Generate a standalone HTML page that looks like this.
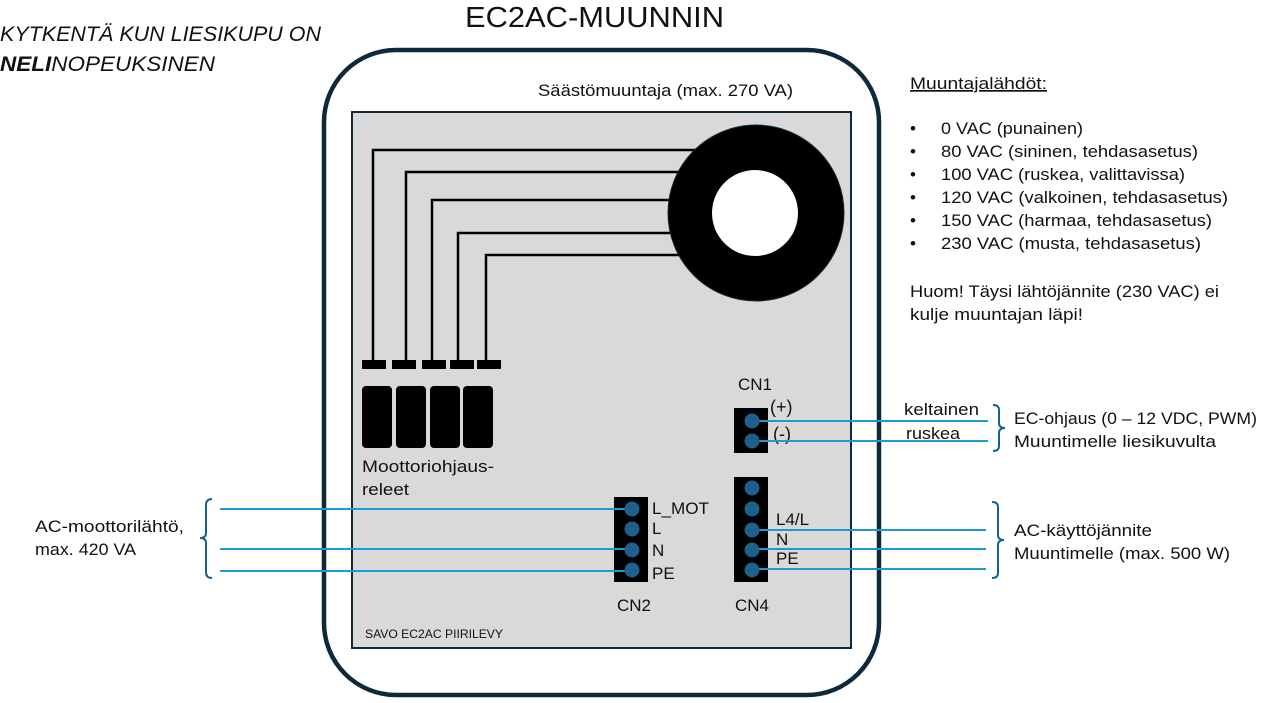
<!DOCTYPE html>
<html><head><meta charset="utf-8"><style>
html,body{margin:0;padding:0;background:#fff;}
svg{display:block;}
text{font-family:"Liberation Sans",sans-serif;fill:#111;}
</style></head><body>
<svg width="1272" height="703" viewBox="0 0 1272 703" xmlns="http://www.w3.org/2000/svg">
<text x="465" y="27" font-size="29" textLength="259" lengthAdjust="spacingAndGlyphs">EC2AC-MUUNNIN</text>
<text x="0" y="41" font-size="21" font-style="italic" textLength="321" lengthAdjust="spacingAndGlyphs">KYTKENTÄ KUN LIESIKUPU ON</text>
<text x="0" y="71" font-size="21" font-style="italic" textLength="215" lengthAdjust="spacingAndGlyphs"><tspan font-weight="bold">NELI</tspan>NOPEUKSINEN</text>

<rect x="324" y="50" width="555" height="645" rx="72" fill="#fff" stroke="#0e2a3a" stroke-width="4.5"/>
<text x="538" y="96" font-size="17" textLength="255" lengthAdjust="spacingAndGlyphs">Säästömuuntaja (max. 270 VA)</text>
<rect x="352" y="112" width="499" height="536" fill="#d9d9d9" stroke="#0e2a3a" stroke-width="2"/>

<g stroke="#000" stroke-width="2.5" fill="none">
<polyline points="373,362 373,150 700,150"/>
<polyline points="406,362 406,172 690,172"/>
<polyline points="432,362 432,200 680,200"/>
<polyline points="458,362 458,233 680,233"/>
<polyline points="486,362 486,255 690,255"/>
</g>
<circle cx="756" cy="213" r="88" fill="#000" stroke="#0e2a3a" stroke-width="1"/>
<circle cx="755" cy="213" r="43" fill="#fff"/>

<g fill="#000">
<rect x="362" y="360" width="24" height="9"/>
<rect x="392" y="360" width="24" height="9"/>
<rect x="422" y="360" width="24" height="9"/>
<rect x="450" y="360" width="24" height="9"/>
<rect x="477" y="360" width="24" height="9"/>
<rect x="362" y="386" width="30" height="62" rx="4"/>
<rect x="396" y="386" width="30" height="62" rx="4"/>
<rect x="430" y="386" width="30" height="62" rx="4"/>
<rect x="463" y="386" width="30" height="62" rx="4"/>
</g>
<text x="362" y="472" font-size="17" textLength="132" lengthAdjust="spacingAndGlyphs">Moottoriohjaus-</text>
<text x="362" y="495" font-size="17" textLength="47" lengthAdjust="spacingAndGlyphs">releet</text>

<text x="738" y="390" font-size="17">CN1</text>
<rect x="734" y="408" width="34" height="45" fill="#000"/>
<text x="770" y="413" font-size="18">(+)</text>
<text x="773" y="440" font-size="18">(-)</text>
<rect x="614" y="497" width="34" height="85" fill="#000"/>
<text x="617" y="611" font-size="17">CN2</text>
<text x="652" y="514" font-size="17" textLength="57" lengthAdjust="spacingAndGlyphs">L_MOT</text>
<text x="652" y="534" font-size="17">L</text>
<text x="652" y="556" font-size="17">N</text>
<text x="652" y="579" font-size="17">PE</text>
<rect x="734" y="477" width="34" height="105" fill="#000"/>
<text x="735" y="611" font-size="17">CN4</text>
<text x="776" y="525" font-size="17">L4/L</text>
<text x="776" y="545" font-size="17">N</text>
<text x="776" y="564" font-size="17">PE</text>

<g stroke="#1a9ad0" stroke-width="2" fill="none">
<line x1="752" y1="421" x2="988" y2="421"/>
<line x1="752" y1="441" x2="988" y2="441"/>
<line x1="220" y1="509" x2="632" y2="509"/>
<line x1="220" y1="549" x2="632" y2="549"/>
<line x1="220" y1="571" x2="632" y2="571"/>
<line x1="752" y1="530" x2="986" y2="530"/>
<line x1="752" y1="549" x2="986" y2="549"/>
<line x1="752" y1="569" x2="986" y2="569"/>
</g>
<g fill="#1f5f8b">
<circle cx="752" cy="421" r="7.5"/><circle cx="752" cy="441" r="7.5"/>
<circle cx="632" cy="509" r="7.5"/><circle cx="632" cy="529" r="7.5"/><circle cx="632" cy="550" r="7.5"/><circle cx="632" cy="570" r="7.5"/>
<circle cx="752" cy="488" r="7.5"/><circle cx="752" cy="509" r="7.5"/><circle cx="752" cy="530" r="7.5"/><circle cx="752" cy="550" r="7.5"/><circle cx="752" cy="570" r="7.5"/>
</g>

<text x="365" y="638" font-size="12" textLength="138" lengthAdjust="spacingAndGlyphs">SAVO EC2AC PIIRILEVY</text>

<g stroke="#1a5f8e" stroke-width="2" fill="none">
<path d="M212,499 Q206,499 206,505 L206,533 Q206,538 200,538 Q206,538 206,543 L206,572 Q206,578 212,578"/>
<path d="M993,405 Q999,405 999,410 L999,423 Q999,428 1005,428 Q999,428 999,433 L999,446 Q999,451 993,451"/>
<path d="M992,502 Q998,502 998,507 L998,535 Q998,540 1004,540 Q998,540 998,545 L998,573 Q998,578 992,578"/>
</g>

<g font-size="17">
<text x="35" y="532" textLength="149" lengthAdjust="spacingAndGlyphs">AC-moottorilähtö,</text>
<text x="35" y="555" textLength="101" lengthAdjust="spacingAndGlyphs">max. 420 VA</text>
<text x="904" y="415" textLength="75" lengthAdjust="spacingAndGlyphs">keltainen</text>
<text x="906" y="439" textLength="54" lengthAdjust="spacingAndGlyphs">ruskea</text>
<text x="1014" y="424" textLength="243" lengthAdjust="spacingAndGlyphs">EC-ohjaus (0 – 12 VDC, PWM)</text>
<text x="1014" y="447" textLength="202" lengthAdjust="spacingAndGlyphs">Muuntimelle liesikuvulta</text>
<text x="1014" y="536" textLength="138" lengthAdjust="spacingAndGlyphs">AC-käyttöjännite</text>
<text x="1014" y="559" textLength="216" lengthAdjust="spacingAndGlyphs">Muuntimelle (max. 500 W)</text>

<text x="910" y="89" text-decoration="underline" textLength="137" lengthAdjust="spacingAndGlyphs">Muuntajalähdöt:</text>
<text x="910" y="134">•</text><text x="941" y="134" textLength="142" lengthAdjust="spacingAndGlyphs">0 VAC (punainen)</text>
<text x="910" y="157">•</text><text x="941" y="157" textLength="257" lengthAdjust="spacingAndGlyphs">80 VAC (sininen, tehdasasetus)</text>
<text x="910" y="180">•</text><text x="941" y="180" textLength="244" lengthAdjust="spacingAndGlyphs">100 VAC (ruskea, valittavissa)</text>
<text x="910" y="203">•</text><text x="941" y="203" textLength="287" lengthAdjust="spacingAndGlyphs">120 VAC (valkoinen, tehdasasetus)</text>
<text x="910" y="226">•</text><text x="941" y="226" textLength="271" lengthAdjust="spacingAndGlyphs">150 VAC (harmaa, tehdasasetus)</text>
<text x="910" y="249">•</text><text x="941" y="249" textLength="260" lengthAdjust="spacingAndGlyphs">230 VAC (musta, tehdasasetus)</text>
<text x="910" y="297" textLength="309" lengthAdjust="spacingAndGlyphs">Huom! Täysi lähtöjännite (230 VAC) ei</text>
<text x="910" y="320" textLength="173" lengthAdjust="spacingAndGlyphs">kulje muuntajan läpi!</text>
</g>
</svg>
</body></html>
